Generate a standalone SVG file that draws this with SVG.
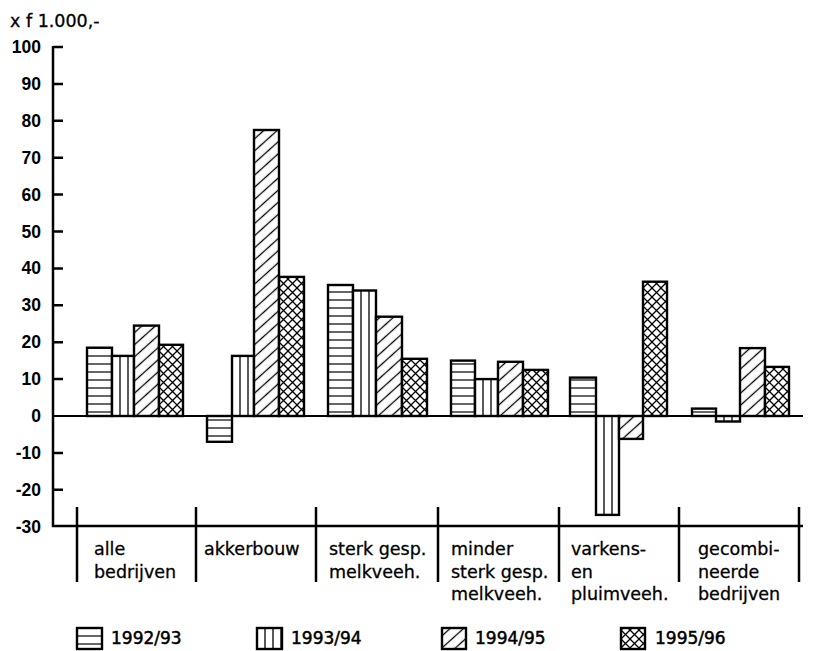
<svg xmlns="http://www.w3.org/2000/svg" width="815" height="651" viewBox="0 0 815 651">
<style>
.ax{stroke:#000;stroke-width:2.5;fill:none}
.zl{stroke:#000;stroke-width:2;fill:none}
.bar{stroke:#000;stroke-width:2.4}
.h{fill:url(#pH)}
.v{fill:url(#pV)}
.d{fill:url(#pD)}
.x{fill:url(#pX)}
.yl{font-family:"Liberation Sans",Arial,sans-serif;font-weight:bold;font-size:17.5px;text-anchor:end;fill:#000}
.t{font-family:"DejaVu Sans","Liberation Sans",sans-serif;font-size:17.5px;fill:#000;stroke:#000;stroke-width:0.3}
.lg{font-family:"DejaVu Sans","Liberation Sans",sans-serif;font-size:17px;fill:#000;stroke:#000;stroke-width:0.5}
</style>
<defs>
<pattern id="pH" patternUnits="userSpaceOnUse" width="8" height="8"><rect width="8" height="8" fill="#fff"/><line x1="0" y1="4" x2="8" y2="4" stroke="#000" stroke-width="1.2"/></pattern>
<pattern id="pV" patternUnits="userSpaceOnUse" width="8" height="8"><rect width="8" height="8" fill="#fff"/><line x1="0" y1="0" x2="0" y2="8" stroke="#000" stroke-width="1.3"/><line x1="8" y1="0" x2="8" y2="8" stroke="#000" stroke-width="1.3"/></pattern>
<pattern id="pD" patternUnits="userSpaceOnUse" width="9" height="9" patternTransform="rotate(-42)"><rect width="9" height="9" fill="#fff"/><line x1="0" y1="4.5" x2="9" y2="4.5" stroke="#000" stroke-width="1.3"/></pattern>
<pattern id="pX" patternUnits="userSpaceOnUse" width="9" height="9"><rect width="9" height="9" fill="#fff"/><path d="M0,0L9,9M9,0L0,9" stroke="#000" stroke-width="1.3"/></pattern>
</defs>
<rect width="815" height="651" fill="#fff"/>

<g id="axes">
<text class="t" x="10" y="27" font-size="17">x f 1.000,-</text>
<path class="ax" d="M53,46V526H803"/>
<path class="ax" d="M53,47H63M53,83.9H63M53,120.8H63M53,157.7H63M53,194.6H63M53,231.5H63M53,268.4H63M53,305.3H63M53,342.2H63M53,379.1H63M53,452.9H63M53,489.8H63"/>
<path class="zl" d="M53,416H803"/>
<text class="yl" x="41" y="53">100</text>
<text class="yl" x="41" y="90">90</text>
<text class="yl" x="41" y="127">80</text>
<text class="yl" x="41" y="164">70</text>
<text class="yl" x="41" y="201">60</text>
<text class="yl" x="41" y="238">50</text>
<text class="yl" x="41" y="274">40</text>
<text class="yl" x="41" y="311">30</text>
<text class="yl" x="41" y="348">20</text>
<text class="yl" x="41" y="385">10</text>
<text class="yl" x="41" y="422">0</text>
<text class="yl" x="41" y="459">-10</text>
<text class="yl" x="41" y="496">-20</text>
<text class="yl" x="41" y="533">-30</text>
<path class="ax" d="M77,507V582M196,507V582M316,507V582M438,507V582M559,507V582M679,507V582M799,507V582"/>
</g>

<g id="cat-alle-bedrijven">
<g transform="translate(87,0)"><rect class="bar h" x="0" y="347.7" width="25" height="68.3"/></g>
<g transform="translate(112,0)"><rect class="bar v" x="0" y="355.9" width="22" height="60.1"/></g>
<g transform="translate(134,0)"><rect class="bar d" x="0" y="325.6" width="25" height="90.4"/></g>
<g transform="translate(159,0)"><rect class="bar x" x="0" y="344.8" width="24" height="71.2"/></g>
<text class="t" x="94" y="555">alle</text>
<text class="t" x="94" y="577.5">bedrijven</text>
</g>

<g id="cat-akkerbouw">
<g transform="translate(207,0)"><rect class="bar h" x="0" y="416" width="25" height="25.8"/></g>
<g transform="translate(232,0)"><rect class="bar v" x="0" y="355.9" width="22" height="60.1"/></g>
<g transform="translate(254,0)"><rect class="bar d" x="0" y="130" width="25" height="286"/></g>
<g transform="translate(279,0)"><rect class="bar x" x="0" y="276.9" width="25" height="139.1"/></g>
<text class="t" x="204" y="555">akkerbouw</text>
</g>

<g id="cat-sterk-gesp">
<g transform="translate(328,0)"><rect class="bar h" x="0" y="285" width="25" height="131"/></g>
<g transform="translate(353,0)"><rect class="bar v" x="0" y="290.5" width="23" height="125.5"/></g>
<g transform="translate(376,0)"><rect class="bar d" x="0" y="316.7" width="26" height="99.3"/></g>
<g transform="translate(402,0)"><rect class="bar x" x="0" y="358.8" width="25" height="57.2"/></g>
<text class="t" x="329" y="555">sterk gesp.</text>
<text class="t" x="329" y="577.5">melkveeh.</text>
</g>

<g id="cat-minder-sterk">
<g transform="translate(451,0)"><rect class="bar h" x="0" y="360.6" width="24" height="55.4"/></g>
<g transform="translate(475,0)"><rect class="bar v" x="0" y="379.1" width="23" height="36.9"/></g>
<g transform="translate(498,0)"><rect class="bar d" x="0" y="361.8" width="25" height="54.2"/></g>
<g transform="translate(523,0)"><rect class="bar x" x="0" y="369.9" width="25" height="46.1"/></g>
<text class="t" x="451" y="555">minder</text>
<text class="t" x="451" y="577.5">sterk gesp.</text>
<text class="t" x="451" y="600">melkveeh.</text>
</g>

<g id="cat-varkens">
<g transform="translate(570,0)"><rect class="bar h" x="0" y="377.6" width="26" height="38.4"/></g>
<g transform="translate(596,0)"><rect class="bar v" x="0" y="416" width="23" height="98.9"/></g>
<g transform="translate(619,0)"><rect class="bar d" x="0" y="416" width="24" height="22.9"/></g>
<g transform="translate(643,0)"><rect class="bar x" x="0" y="281.7" width="24" height="134.3"/></g>
<text class="t" x="571" y="555">varkens-</text>
<text class="t" x="571" y="577.5">en</text>
<text class="t" x="571" y="600">pluimveeh.</text>
</g>

<g id="cat-gecombineerde">
<g transform="translate(692,0)"><rect class="bar h" x="0" y="408.6" width="24" height="7.4"/></g>
<g transform="translate(716,0)"><rect class="bar v" x="0" y="416" width="24" height="5.5"/></g>
<g transform="translate(740,0)"><rect class="bar d" x="0" y="348.1" width="25" height="67.9"/></g>
<g transform="translate(765,0)"><rect class="bar x" x="0" y="366.9" width="24" height="49.1"/></g>
<text class="t" x="698" y="555">gecombi-</text>
<text class="t" x="698" y="577.5">neerde</text>
<text class="t" x="698" y="600">bedrijven</text>
</g>

<g id="legend">
<g transform="translate(77,0)"><rect class="bar h" x="0" y="628" width="25" height="21"/></g>
<text class="lg" x="111" y="644">1992/93</text>
<g transform="translate(257,0)"><rect class="bar v" x="0" y="628" width="25" height="21"/></g>
<text class="lg" x="291" y="644">1993/94</text>
<g transform="translate(442,0)"><rect class="bar d" x="0" y="628" width="24" height="21"/></g>
<text class="lg" x="475" y="644">1994/95</text>
<g transform="translate(621,0)"><rect class="bar x" x="0" y="628" width="24" height="21"/></g>
<text class="lg" x="655" y="644">1995/96</text>
</g>
</svg>
